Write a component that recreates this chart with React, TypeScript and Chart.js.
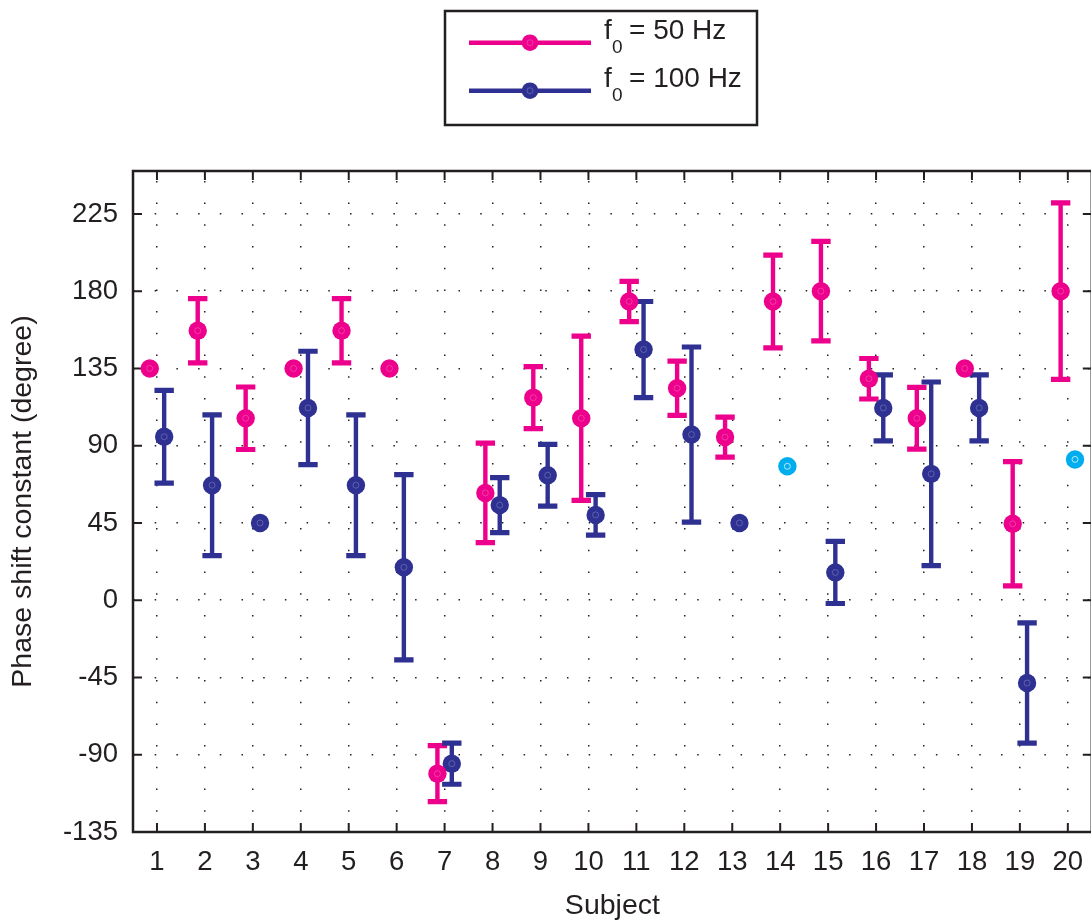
import { useEffect, useRef } from "react";
import { Chart, registerables } from "chart.js";

Chart.register(...registerables);

// ---- data -------------------------------------------------------------
const SUBJECTS = [1, 2, 3, 4, 5, 6, 7, 8, 9, 10, 11, 12, 13, 14, 15, 16, 17, 18, 19, 20];
const X_TICK_LABELS = SUBJECTS.map((s) => String(s));
const Y_TICKS = [-135, -90, -45, 0, 45, 90, 135, 180, 225];
const Y_TICK_LABELS = ["-135", "-90", "-45", "0", "45", "90", "135", "180", "225"];

// f0 = 50 Hz: mean phase shift and half-width of the error bar (null = no bar)
const F50_MEAN = [135, 157, 106, 135, 157, 135, -101, 62.5, 118, 106, 174, 123.5, 95, 174, 180, 129, 106, 135, 44.5, 180];
const F50_ERR = [null, 18.7, 18.2, null, 18.7, null, 16.3, 29, 18, 47.8, 11.7, 15.8, 11.6, 27, 29, 11.8, 18, null, 36.2, 51.4];

// f0 = 100 Hz
const F100_MEAN = [95.2, 67, 45, 112, 67, 19.2, -95.2, 55.4, 72.8, 49.7, 146, 96.5, 45, null, 16.2, 112, 73.6, 112, -48.2, null];
const F100_ERR = [27, 41, null, 33, 41, 54, 12, 16, 18, 11.8, 28, 51, null, null, 18.1, 19.2, 53.5, 19.2, 35, null];

// separately marked 100 Hz values
const MARKED_SUBJECTS = [14, 20];
const MARKED_VALUES = [78, 82];

// ---- style ------------------------------------------------------------
const PINK = "#EC008C";
const NAVY = "#2E3192";
const CYAN = "#00AEEF";
const INK = "#231F20";
const FONT = '"Liberation Sans", Arial, Helvetica, sans-serif';
const SHIFT = 0.15;
const CAP = 9.7;
const POINT_R = 9.2;

const SERIES = [
  { sub: "0", text: "= 50 Hz", mean: F50_MEAN, err: F50_ERR, color: PINK, shift: -SHIFT },
  { sub: "0", text: "= 100 Hz", mean: F100_MEAN, err: F100_ERR, color: NAVY, shift: SHIFT },
];

const toPoints = (vals: (number | null)[], shift: number) =>
  SUBJECTS.map((s, i) => (vals[i] == null ? null : { x: s + shift, y: vals[i] as number })).filter(
    (p) => p !== null
  );

const framePlugin = {
  id: "frameAndErrorBars",
  beforeDatasetsDraw(chart: any) {
    const { ctx, chartArea, scales } = chart;
    const { left, right, top, bottom } = chartArea;
    const x = scales.x;
    const y = scales.y;
    ctx.save();
    // axes box with inward ticks
    ctx.strokeStyle = INK;
    ctx.lineWidth = 2.5;
    ctx.strokeRect(left, top, right - left, bottom - top);
    ctx.lineWidth = 2;
    ctx.beginPath();
    SUBJECTS.forEach((v) => {
      const px = x.getPixelForValue(v);
      ctx.moveTo(px, bottom);
      ctx.lineTo(px, bottom - 9);
      ctx.moveTo(px, top);
      ctx.lineTo(px, top + 9);
    });
    Y_TICKS.forEach((v) => {
      const py = y.getPixelForValue(v);
      ctx.moveTo(left, py);
      ctx.lineTo(left + 9, py);
      ctx.moveTo(right, py);
      ctx.lineTo(right - 9, py);
    });
    ctx.stroke();

    // error bars
    ctx.beginPath();
    ctx.rect(left, top, right - left, bottom - top);
    ctx.clip();
    ctx.lineCap = "butt";
    SERIES.forEach((s) => {
      ctx.strokeStyle = s.color;
      SUBJECTS.forEach((subj, i) => {
        const m = s.mean[i];
        const e = s.err[i];
        if (m == null || e == null) return;
        const px = x.getPixelForValue(subj + s.shift);
        const pTop = y.getPixelForValue(m + e);
        const pBot = y.getPixelForValue(m - e);
        ctx.lineWidth = 4.4;
        ctx.beginPath();
        ctx.moveTo(px, pTop);
        ctx.lineTo(px, pBot);
        ctx.stroke();
        ctx.lineWidth = 5.2;
        ctx.beginPath();
        ctx.moveTo(px - CAP, pTop);
        ctx.lineTo(px + CAP, pTop);
        ctx.moveTo(px - CAP, pBot);
        ctx.lineTo(px + CAP, pBot);
        ctx.stroke();
      });
    });
    ctx.restore();
  },
  afterDatasetsDraw(chart: any) {
    const { ctx } = chart;
    ctx.save();
    chart.data.datasets.forEach((_: any, di: number) => {
      const meta = chart.getDatasetMeta(di);
      ctx.strokeStyle = di === 2 ? "rgba(255,255,255,0.7)" : "rgba(255,255,255,0.22)";
      ctx.lineWidth = 1;
      meta.data.forEach((pt: any) => {
        ctx.beginPath();
        ctx.arc(pt.x, pt.y, 3, 0, Math.PI * 2);
        ctx.stroke();
      });
    });
    ctx.restore();
  },
  afterDraw(chart: any) {
    const { ctx } = chart;
    ctx.save();
    // legend box
    ctx.fillStyle = "#fff";
    ctx.fillRect(445, 11, 312, 114);
    ctx.strokeStyle = INK;
    ctx.lineWidth = 2.5;
    ctx.strokeRect(445, 11, 312, 114);
    const rows = [42.7, 90.7];
    SERIES.forEach((s, i) => {
      const ly = rows[i];
      ctx.strokeStyle = s.color;
      ctx.lineWidth = 4.5;
      ctx.beginPath();
      ctx.moveTo(469, ly);
      ctx.lineTo(591, ly);
      ctx.stroke();
      ctx.fillStyle = s.color;
      ctx.beginPath();
      ctx.arc(530, ly, 8.3, 0, Math.PI * 2);
      ctx.fill();
      ctx.strokeStyle = "rgba(255,255,255,0.22)";
      ctx.lineWidth = 1;
      ctx.beginPath();
      ctx.arc(530, ly, 3, 0, Math.PI * 2);
      ctx.stroke();
      ctx.fillStyle = INK;
      ctx.textAlign = "left";
      ctx.textBaseline = "alphabetic";
      ctx.font = `28px ${FONT}`;
      ctx.fillText("f", 604, ly - 3.4);
      ctx.font = `19px ${FONT}`;
      ctx.fillText(s.sub, 612, ly + 10.4);
      ctx.font = `28px ${FONT}`;
      ctx.fillText(s.text, 629, ly - 3.4);
    });
    ctx.restore();
  },
};

export default function App() {
  const canvasRef = useRef<HTMLCanvasElement | null>(null);

  useEffect(() => {
    const canvas = canvasRef.current;
    if (!canvas) return;
    const chart = new Chart(canvas, {
      type: "scatter",
      data: {
        datasets: [
          {
            label: "f0 = 50 Hz",
            data: toPoints(F50_MEAN, -SHIFT) as any,
            pointBackgroundColor: PINK,
            pointBorderWidth: 0,
            pointRadius: POINT_R,
            pointHoverRadius: POINT_R,
          },
          {
            label: "f0 = 100 Hz",
            data: toPoints(F100_MEAN, SHIFT) as any,
            pointBackgroundColor: NAVY,
            pointBorderWidth: 0,
            pointRadius: POINT_R,
            pointHoverRadius: POINT_R,
          },
          {
            label: "f0 = 100 Hz (marked)",
            data: MARKED_SUBJECTS.map((s, i) => ({ x: s + SHIFT, y: MARKED_VALUES[i] })),
            pointBackgroundColor: CYAN,
            pointBorderWidth: 0,
            pointRadius: POINT_R,
            pointHoverRadius: POINT_R,
          },
        ],
      },
      options: {
        responsive: false,
        animation: false,
        events: [],
        layout: { padding: { top: 171, left: 0, right: 0, bottom: 0 } },
        plugins: { legend: { display: false }, tooltip: { enabled: false } },
        scales: {
          x: {
            type: "linear",
            min: 0.5,
            max: 20.5,
            afterBuildTicks: (s: any) => {
              s.ticks = SUBJECTS.map((v) => ({ value: v }));
            },
            afterFit: (s: any) => {
              s.height = 88;
            },
            grid: { color: INK, lineWidth: 1.5, drawTicks: false },
            border: { display: false, dash: [1.5, 20.2], dashOffset: 11.8 },
            ticks: {
              padding: 14,
              color: INK,
              font: { family: FONT, size: 27.5 },
              autoSkip: false,
              maxRotation: 0,
              callback: (v: any) => X_TICK_LABELS[SUBJECTS.indexOf(Number(v))] ?? "",
            },
            title: {
              display: true,
              text: "Subject",
              color: INK,
              font: { family: FONT, size: 28.5, lineHeight: 1 },
              padding: 0,
            },
          },
          y: {
            type: "linear",
            min: -135,
            max: 250,
            afterBuildTicks: (s: any) => {
              s.ticks = Y_TICKS.map((v) => ({ value: v }));
            },
            afterFit: (s: any) => {
              s.width = 133;
            },
            grid: { color: INK, lineWidth: 1.5, drawTicks: false },
            border: { display: false, dash: [1.5, 20.2], dashOffset: 0 },
            ticks: {
              padding: 15,
              color: INK,
              font: { family: FONT, size: 27.5 },
              autoSkip: false,
              callback: (v: any) => Y_TICK_LABELS[Y_TICKS.indexOf(Number(v))] ?? "",
            },
            title: {
              display: true,
              text: "Phase shift constant (degree)",
              color: INK,
              font: { family: FONT, size: 28.5, lineHeight: 1 },
              padding: { top: 9, bottom: 0 },
            },
          },
        },
      },
      plugins: [framePlugin],
    });
    return () => chart.destroy();
  }, []);

  return (
    <div
      style={{
        position: "absolute",
        left: 0,
        top: 0,
        width: 1091,
        height: 920,
        overflow: "hidden",
        background: "#fff",
      }}
    >
      <canvas ref={canvasRef} width={1101} height={920} style={{ display: "block", width: 1101, height: 920 }} />
    </div>
  );
}
